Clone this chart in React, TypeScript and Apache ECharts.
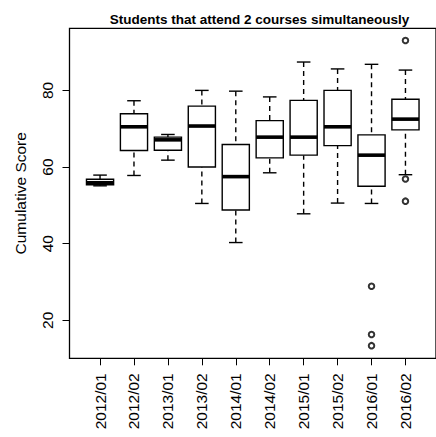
import React, { useEffect, useRef } from "react";
import * as echarts from "echarts";

const categories = [
  "2012/01", "2012/02", "2013/01", "2013/02", "2014/01",
  "2014/02", "2015/01", "2015/02", "2016/01", "2016/02",
];
const lowerWhisker = [55.1, 57.8, 61.8, 50.5, 40.3, 58.5, 47.8, 50.6, 50.5, 58.0];
const q1 = [55.4, 64.3, 64.4, 60.0, 48.8, 62.4, 63.1, 65.6, 55.0, 69.7];
const median = [55.9, 70.5, 67.1, 70.7, 57.5, 67.8, 67.8, 70.5, 63.1, 72.5];
const q3 = [56.8, 73.9, 67.8, 75.9, 65.9, 72.1, 77.4, 80.0, 68.4, 77.7];
const upperWhisker = [57.9, 77.3, 68.5, 80.0, 79.8, 78.3, 87.4, 85.6, 86.8, 85.3];
const outliers: number[][] = [[], [], [], [], [], [], [], [], [28.9, 16.3, 13.4], [93.0, 56.9, 51.1]];
const yTicks = [20, 40, 60, 80];

const FONT = "'Liberation Sans', Arial, Helvetica, sans-serif";

export default function App() {
  const ref = useRef<HTMLDivElement>(null);
  useEffect(() => {
    if (!ref.current) return;
    const chart = echarts.init(ref.current, null, { renderer: "svg" });
    const xPos = categories.map((_, i) => i + 1);
    const boxData = categories.map((_, i) => [
      xPos[i], lowerWhisker[i], q1[i], median[i], q3[i], upperWhisker[i],
    ]);
    const outlierData: number[][] = [];
    outliers.forEach((arr, i) => arr.forEach((v) => outlierData.push([xPos[i], v])));

    const lw = 1.4;
    chart.setOption({
      animation: false,
      title: {
        text: "Students that attend 2 courses simultaneously",
        left: 254.5,
        top: 7,
        textAlign: "center",
        textStyle: { fontFamily: FONT, fontSize: 13.5, fontWeight: "bold", color: "#000" },
      },
      grid: {
        left: 69.5,
        top: 28.3,
        width: 370,
        bottom: 78.7,
        show: true,
        borderColor: "#000",
        borderWidth: 1.3,
        backgroundColor: "transparent",
      },
      xAxis: {
        type: "value",
        min: 0.1,
        max: 10.9,
        axisLine: { show: false },
        splitLine: { show: false },
        axisTick: {
          show: true,
          length: 7,
          customValues: xPos,
          lineStyle: { color: "#000", width: 1 },
        },
        axisLabel: {
          customValues: xPos,
          rotate: 90,
          margin: 15,
          formatter: (v: number) => categories[Math.round(v) - 1] ?? "",
          fontFamily: FONT,
          fontSize: 15.5,
          color: "#000",
        },
      },
      yAxis: {
        type: "value",
        min: 10.1,
        max: 96.2,
        name: "Cumulative Score",
        nameLocation: "middle",
        nameRotate: 90,
        nameGap: 41,
        nameTextStyle: { fontFamily: FONT, fontSize: 15.5, color: "#000" },
        axisLine: { show: false },
        splitLine: { show: false },
        axisTick: {
          show: true,
          length: 7,
          customValues: yTicks,
          lineStyle: { color: "#000", width: 1 },
        },
        axisLabel: {
          customValues: yTicks,
          rotate: 90,
          margin: 14,
          fontFamily: FONT,
          fontSize: 15.5,
          color: "#000",
        },
      },
      series: [
        {
          type: "custom",
          data: boxData,
          encode: { x: 0, y: [1, 2, 3, 4, 5] },
          renderItem: (params: any, api: any) => {
            const x = api.value(0);
            const pLow = api.coord([x, api.value(1)]);
            const pQ1 = api.coord([x, api.value(2)]);
            const pMed = api.coord([x, api.value(3)]);
            const pQ3 = api.coord([x, api.value(4)]);
            const pHigh = api.coord([x, api.value(5)]);
            const cx = pMed[0];
            const halfW = api.size([0.8, 0])[0] / 2;
            const halfS = api.size([0.4, 0])[0] / 2;
            const solid = { stroke: "#000", lineWidth: lw, fill: null };
            const dashed = { stroke: "#000", lineWidth: lw, lineDash: [5, 4], fill: null };
            return {
              type: "group",
              children: [
                { type: "line", shape: { x1: cx, y1: pHigh[1], x2: cx, y2: pQ3[1] }, style: dashed },
                { type: "line", shape: { x1: cx, y1: pLow[1], x2: cx, y2: pQ1[1] }, style: dashed },
                { type: "line", shape: { x1: cx - halfS, y1: pHigh[1], x2: cx + halfS, y2: pHigh[1] }, style: solid },
                { type: "line", shape: { x1: cx - halfS, y1: pLow[1], x2: cx + halfS, y2: pLow[1] }, style: solid },
                {
                  type: "rect",
                  shape: { x: cx - halfW, y: pQ3[1], width: 2 * halfW, height: pQ1[1] - pQ3[1] },
                  style: { stroke: "#000", lineWidth: lw, fill: "#fff" },
                },
                {
                  type: "line",
                  shape: { x1: cx - halfW, y1: pMed[1], x2: cx + halfW, y2: pMed[1] },
                  style: { stroke: "#000", lineWidth: 3.6 },
                },
              ],
            };
          },
        },
        {
          type: "scatter",
          data: outlierData,
          symbol: "emptyCircle",
          symbolSize: 5.5,
          itemStyle: { color: "#000", borderColor: "#000", borderWidth: 1.4 },
        },
      ],
    });
    return () => chart.dispose();
  }, []);
  return (
    <div
      ref={ref}
      style={{ position: "absolute", left: 0, top: 0, width: 436, height: 437, background: "#fff" }}
    />
  );
}
